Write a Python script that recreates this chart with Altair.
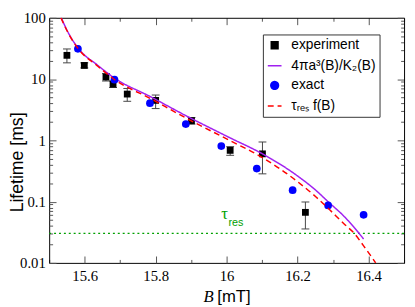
import altair as alt
import pandas as pd

# ---------------- data ----------------
exp_B = [15.550, 15.599, 15.660, 15.680, 15.720, 15.800, 15.901, 16.010, 16.101, 16.222]
exp_tau = [24.4, 16.7, 10.8, 8.27, 5.69, 4.49, 2.09, 0.686, 0.602, 0.0668]
exp_lo = [18.4, 15.2, 9.3, 7.3, 4.34, 3.3, 1.84, 0.57, 0.284, 0.0358]
exp_hi = [31.0, 18.4, 12.3, 9.3, 7.03, 5.49, 2.36, 0.79, 0.94, 0.0986]

exact_B = [15.581, 15.684, 15.784, 15.885, 15.985, 16.085, 16.186, 16.286, 16.386]
exact_tau = [31.2, 9.76, 4.04, 1.84, 0.807, 0.346, 0.154, 0.0865, 0.0608]

formula_B = [15.534, 15.554, 15.583, 15.635, 15.683, 15.785, 15.884, 16.010,
             16.101, 16.198, 16.252, 16.286, 16.332, 16.386]
formula_tau = [100, 56.9, 31.2, 17.1, 10.47, 5.17, 2.55, 1.096,
               0.602, 0.267, 0.152, 0.0996, 0.0567, 0.0246]

fres_B = [15.533, 15.554, 15.583, 15.635, 15.683, 15.785, 15.884, 16.010,
          16.101, 16.198, 16.252, 16.286, 16.332, 16.359, 16.386, 16.420]
fres_tau = [100, 55.9, 30.7, 16.6, 9.93, 4.82, 2.34, 0.986,
            0.523, 0.216, 0.119, 0.0778, 0.0428, 0.0306, 0.0190, 0.0100]

tau_res = [0.0303]

series_keys = ["experiment", "formula", "exact", "taures"]
series_colors = ["#000000", "#a020f0", "#0000ff", "#ff0000"]
series_shapes = ["square", "stroke", "circle", "stroke"]
series_sizes = [48, 196, 62, 196]
series_dashes = [[1, 0], [1, 0], [1, 0], [6, 4]]

x_ticks = [15.5, 15.6, 15.7, 15.8, 15.9, 16.0, 16.1, 16.2, 16.3, 16.4, 16.5]
y_ticks = [m * d for d in [0.01, 0.1, 1, 10] for m in range(1, 10)] + [100]

tau_text = ["τ"]
tau_text_B = [15.985]
tau_text_y = [0.0528]
res_text = ["res"]
res_text_B = [16.005]
res_text_y = [0.0399]

# ---------------- frames ----------------
df_exp = pd.DataFrame({"B": exp_B, "tau": exp_tau, "lo": exp_lo, "hi": exp_hi,
                       "series": "experiment"})
df_exact = pd.DataFrame({"B": exact_B, "tau": exact_tau, "series": "exact"})
df_formula = pd.DataFrame({"B": formula_B, "tau": formula_tau, "series": "formula"})
df_fres = pd.DataFrame({"B": fres_B, "tau": fres_tau, "series": "taures"})
df_taures = pd.DataFrame({"tau": tau_res})
df_tautext = pd.DataFrame({"B": tau_text_B, "tau": tau_text_y, "t": tau_text})
df_restext = pd.DataFrame({"B": res_text_B, "tau": res_text_y, "t": res_text})

W, H = 362, 250

# ---------------- scales / axes ----------------
xs = alt.Scale(domain=[15.5, 16.5], zero=False, nice=False)
ys = alt.Scale(type="log", domain=[0.01, 100], nice=False)

MAJX = "abs(datum.value*5 - round(datum.value*5)) < 0.001"
MAJY = "abs(log(datum.value)/LN10 - round(log(datum.value)/LN10)) < 0.001"
TICK = "#555555"
XT = {"condition": {"test": MAJX, "value": 7}, "value": 3.5}
YT = {"condition": {"test": MAJY, "value": 7}, "value": 3.5}

x_bottom = alt.Axis(
    orient="bottom", values=x_ticks, format=".1~f",
    labelExpr=f"{MAJX} ? datum.label : ''",
    labelFont="Liberation Serif", labelFontSize=15, labelColor="black",
    labelPadding=6, labelOverlap=False, labelFlush=False, ticks=False,
    domainColor="black", domainWidth=1, grid=False,
    title="[mT]", titleFont="Liberation Sans", titleFontSize=17,
    titleFontWeight="normal", titleColor="black",
    titleX=171, titleY=39, titleAlign="left", titleBaseline="alphabetic",
)
x_btitle = alt.Axis(
    orient="bottom", labels=False, ticks=False, domain=False, grid=False,
    title="B", titleFont="Liberation Serif", titleFontStyle="italic",
    titleFontSize=17, titleFontWeight="normal", titleColor="black",
    titleX=157, titleY=39, titleAlign="left", titleBaseline="alphabetic",
)
# ticks pointing up from the bottom edge
x_in_bottom = alt.Axis(
    orient="top", offset=-H, values=x_ticks, labels=False, domain=False,
    title=None, grid=False, tickSize=XT, tickColor=TICK, tickWidth=1,
)
# top edge with ticks pointing down
x_in_top = alt.Axis(
    orient="bottom", offset=-H, values=x_ticks, labels=False, domain=True,
    domainColor="black", domainWidth=1, title=None, grid=False,
    tickSize=XT, tickColor=TICK, tickWidth=1,
)
y_left = alt.Axis(
    orient="left", values=y_ticks, format="~g",
    labelExpr=f"{MAJY} ? datum.label : ''",
    labelFont="Liberation Serif", labelFontSize=15, labelColor="black",
    labelPadding=4, labelOverlap=False, labelFlush=False, ticks=False,
    domainColor="black", domainWidth=1, grid=False,
    title="Lifetime [ms]", titleFont="Liberation Sans", titleFontSize=18,
    titleFontWeight="normal", titleColor="black", titleAngle=270,
    titleX=-41, titleY=147, titleAlign="center", titleBaseline="top",
)
# ticks pointing right from the left edge
y_in_left = alt.Axis(
    orient="right", offset=-W, values=y_ticks, labels=False, domain=False,
    title=None, grid=False, tickSize=YT, tickColor=TICK, tickWidth=1,
)
# right edge with ticks pointing left
y_in_right = alt.Axis(
    orient="left", offset=-W, values=y_ticks, labels=False, domain=True,
    domainColor="black", domainWidth=1, title=None, grid=False,
    tickSize=YT, tickColor=TICK, tickWidth=1,
)

legend = alt.Legend(
    title=None, orient="none", legendX=218, legendY=17, direction="vertical",
    labelExpr=("datum.value === 'formula' ? '4πa³(B)/K₂(B)' : "
               "datum.value === 'taures' ? 'τᵣₑₛ f(B)' : datum.label"),
    labelFont="Liberation Sans", labelFontSize=14, labelColor="black",
    labelOffset=9, symbolStrokeWidth=1.5, rowPadding=6,
    padding=4, strokeColor="#333333", fillColor="white", cornerRadius=0,
)

color = alt.Color("series:N", scale=alt.Scale(domain=series_keys, range=series_colors),
                  legend=legend)
shape = alt.Shape("series:N", scale=alt.Scale(domain=series_keys, range=series_shapes),
                  legend=legend)
size = alt.Size("series:N",
                scale=alt.Scale(type="ordinal", domain=series_keys, range=series_sizes),
                legend=legend)
dash = alt.StrokeDash("series:N", scale=alt.Scale(domain=series_keys, range=series_dashes),
                      legend=legend)

def X(axis, field="B"):
    return alt.X(f"{field}:Q", scale=xs, axis=axis)

def Y(axis, field="tau"):
    return alt.Y(f"{field}:Q", scale=ys, axis=axis)

# ---------------- layers ----------------
tau_rule = alt.Chart(df_taures).mark_rule(
    color="#00a000", strokeDash=[2, 3], strokeWidth=1.5
).encode(y=Y(y_in_right))

err_rule = alt.Chart(df_exp).mark_rule(color="#444444", strokeWidth=1).encode(
    x=X(x_bottom), y=Y(y_left, "lo"), y2="hi:Q")
cap_lo = alt.Chart(df_exp).mark_tick(
    orient="horizontal", size=8, thickness=1, color="#444444", opacity=1
).encode(x=X(x_btitle), y=Y(y_in_left, "lo"))
cap_hi = alt.Chart(df_exp).mark_tick(
    orient="horizontal", size=8, thickness=1, color="#444444", opacity=1
).encode(x=X(x_in_bottom), y=Y(None, "hi"))

exp_pts = alt.Chart(df_exp).mark_point(filled=True, opacity=1).encode(
    x=X(None), y=Y(None), color=color, shape=shape, size=size)

formula_line = alt.Chart(df_formula).mark_line(
    strokeWidth=1.5, clip=True, interpolate="monotone"
).encode(x=X(None), y=Y(None), color=color, strokeDash=dash)

exact_pts = alt.Chart(df_exact).mark_point(filled=True, opacity=1).encode(
    x=X(x_in_top), y=Y(None), color=color, shape=shape, size=size)

fres_line = alt.Chart(df_fres).mark_line(
    strokeWidth=1.5, clip=True, interpolate="monotone"
).encode(x=X(None), y=Y(None), color=color, strokeDash=dash)

tau_sym = alt.Chart(df_tautext).mark_text(
    font="Liberation Serif", fontSize=17, color="#00a000",
    align="left", baseline="alphabetic"
).encode(x=X(None), y=Y(None), text="t:N")
tau_sub = alt.Chart(df_restext).mark_text(
    font="Liberation Sans", fontSize=11, color="#00a000",
    align="left", baseline="alphabetic"
).encode(x=X(None), y=Y(None), text="t:N")

chart = alt.layer(
    tau_rule, err_rule, cap_lo, cap_hi, exp_pts, formula_line,
    exact_pts, fres_line, tau_sym, tau_sub
).resolve_axis(x="independent", y="independent").properties(
    width=W, height=H,
    padding={"left": 42, "top": 7, "right": 3, "bottom": 42},
    autosize=alt.AutoSizeParams(type="none"),
    background="white",
).configure_view(stroke=None)

chart.save("out.html", embed_options={"renderer": "svg", "actions": False})
